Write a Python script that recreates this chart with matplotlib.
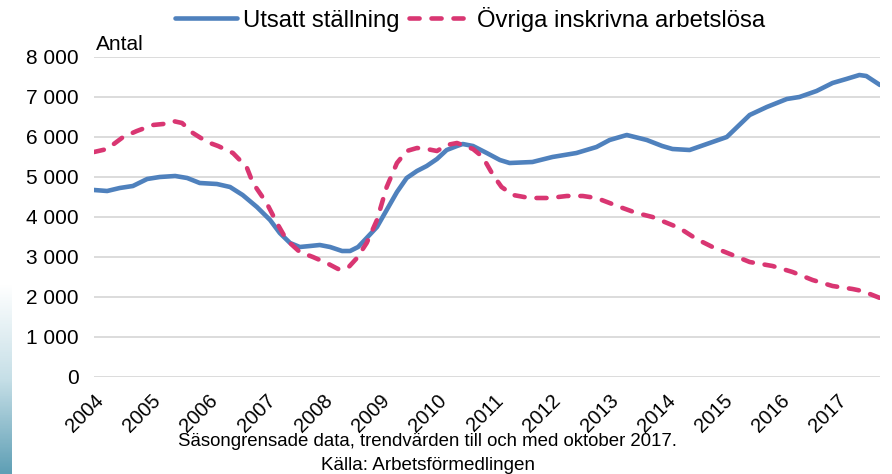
import numpy as np
import matplotlib.pyplot as plt
from matplotlib.colors import LinearSegmentedColormap

# Utsatt ställning (decimal year, antal)
blue_x = [2004.00, 2004.23, 2004.45, 2004.68, 2004.93, 2005.15, 2005.42, 2005.63,
          2005.85, 2006.15, 2006.38, 2006.60, 2006.85, 2007.08, 2007.25, 2007.43,
          2007.60, 2007.78, 2007.95, 2008.13, 2008.34, 2008.48, 2008.62, 2008.77,
          2008.95, 2009.12, 2009.30, 2009.47, 2009.65, 2009.82, 2010.00, 2010.17,
          2010.35, 2010.45, 2010.63, 2010.87, 2011.10, 2011.27, 2011.67, 2012.02,
          2012.44, 2012.79, 2013.02, 2013.32, 2013.67, 2013.94, 2014.12, 2014.42,
          2014.77, 2015.07, 2015.47, 2015.77, 2016.12, 2016.34, 2016.64, 2016.92,
          2017.16, 2017.39, 2017.51, 2017.75]
blue_y = [4675, 4650, 4725, 4775, 4950, 5000, 5025, 4975,
          4850, 4825, 4750, 4550, 4250, 3925, 3600, 3350,
          3250, 3275, 3300, 3250, 3150, 3150, 3250, 3475,
          3750, 4175, 4625, 4975, 5150, 5275, 5450, 5675,
          5775, 5825, 5775, 5600, 5425, 5350, 5375, 5500,
          5600, 5750, 5925, 6050, 5925, 5775, 5700, 5675,
          5850, 6000, 6550, 6750, 6950, 7000, 7150, 7350,
          7450, 7550, 7525, 7300]

# Övriga inskrivna arbetslösa
pink_x = [2004.00, 2004.23, 2004.51, 2004.75, 2005.03, 2005.21, 2005.38, 2005.54,
          2005.73, 2005.98, 2006.17, 2006.43, 2006.67, 2006.78, 2007.02, 2007.20,
          2007.37, 2007.60, 2007.83, 2008.07, 2008.27, 2008.44, 2008.60, 2008.77,
          2008.95, 2009.12, 2009.30, 2009.47, 2009.65, 2009.82, 2010.00, 2010.17,
          2010.35, 2010.63, 2010.80, 2010.98, 2011.13, 2011.33, 2011.62, 2011.97,
          2012.27, 2012.55, 2012.79, 2013.02, 2013.20, 2013.49, 2013.77, 2014.24,
          2014.54, 2014.82, 2015.17, 2015.47, 2015.87, 2016.22, 2016.57, 2016.92,
          2017.27, 2017.44, 2017.75]
pink_y = [5625, 5700, 6000, 6150, 6300, 6325, 6400, 6350,
          6100, 5875, 5775, 5600, 5250, 4850, 4350, 3850,
          3425, 3125, 3000, 2850, 2700, 2725, 2975, 3350,
          3925, 4750, 5350, 5650, 5725, 5700, 5650, 5800,
          5850, 5700, 5500, 5050, 4750, 4550, 4475, 4475,
          4525, 4525, 4475, 4350, 4250, 4100, 4000, 3725,
          3450, 3250, 3050, 2875, 2775, 2625, 2425, 2275,
          2200, 2150, 1975]

years = list(range(2004, 2018))
y_ticks = [0, 1000, 2000, 3000, 4000, 5000, 6000, 7000, 8000]
y_labels = ["0", "1 000", "2 000", "3 000", "4 000", "5 000", "6 000", "7 000", "8 000"]

plt.rcParams['font.family'] = ['Liberation Sans', 'DejaVu Sans']

fig = plt.figure(figsize=(8.92, 4.74), dpi=100)

# decorative gradient strip at the left edge
strip = fig.add_axes([0, 0, 12 / 892, 190 / 474])
cmap = LinearSegmentedColormap.from_list("strip", ["#ffffff", "#c6dfe7", "#5f9fb5"])
strip.imshow(np.linspace(0, 1, 100).reshape(-1, 1), aspect="auto", cmap=cmap)
strip.axis("off")

ax = fig.add_axes([94 / 892, 1 - 377 / 474, 786 / 892, 320 / 474])

ax.plot(blue_x, blue_y, color="#4F81BD", lw=3.3, solid_capstyle="round",
        solid_joinstyle="round", label="Utsatt ställning")
ax.plot(pink_x, pink_y, color="#D93672", lw=3.3, dashes=(2.2, 2.6),
        dash_capstyle="round", dash_joinstyle="round",
        label="Övriga inskrivna arbetslösa")

ax.set_xlim(2004, 2017.75)
ax.set_ylim(0, 8000)
ax.set_yticks(y_ticks)
ax.set_yticklabels(y_labels, fontsize=15)
ax.set_xticks(years)
ax.set_xticklabels([str(y) for y in years], fontsize=14.5, rotation=45,
                   ha="right", rotation_mode="anchor")
ax.tick_params(axis="both", length=0)
ax.tick_params(axis="y", pad=11)
ax.tick_params(axis="x", pad=10)
ax.grid(axis="y", color="#d9d9d9", lw=1.3)
ax.set_axisbelow(True)
for side in ["top", "right", "left", "bottom"]:
    ax.spines[side].set_visible(False)

ax.text(0.003, 1.01, "Antal", transform=ax.transAxes, fontsize=15, va="bottom")

fig.legend(loc="center", bbox_to_anchor=(470 / 892, 1 - 19 / 474), ncol=2,
           frameon=False, fontsize=17.2, handlelength=2.6, columnspacing=0.38,
           handletextpad=0.25, borderpad=0, borderaxespad=0)

fig.text(427 / 892, 1 - 442 / 474,
         "Säsongrensade data, trendvärden till och med oktober 2017.",
         ha="center", va="center", fontsize=13.4)
fig.text(428 / 892, 1 - 465 / 474, "Källa: Arbetsförmedlingen",
         ha="center", va="center", fontsize=13.6)

fig.savefig("out.png", dpi=100)
